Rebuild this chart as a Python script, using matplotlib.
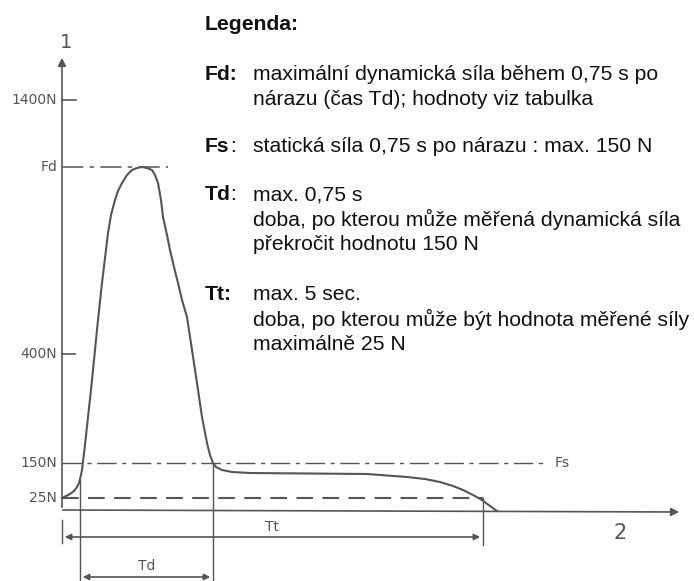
import matplotlib.pyplot as plt
import numpy as np

# force-time diagram (drawing units: t to the right, height of level upwards)
level_names = ['25N', '150N', '400N', 'Fd', '1400N']
level_h = [12, 47, 156, 343, 410]

t_rise = 18     # start of Td
t_td = 151      # end of Td (curve back at 150N)
t_tt = 421      # end of Tt (curve below 25N)
t_end = 620     # end of time axis
h_top = 455     # end of force axis

curve_t = [0, 4, 8, 12, 15, 17, 18, 19, 20, 23, 26, 29, 33, 36, 40, 43, 46,
           49, 53, 56, 60, 65, 70, 75, 80, 85, 90, 93, 96, 99, 101, 105, 108,
           112, 116, 120, 125, 130, 135, 140, 145, 148, 151, 154, 160, 170,
           188, 305, 345, 363, 378, 391, 401, 411, 420, 428, 435]
curve_h = [12, 14, 16, 19, 23, 27, 31, 35, 40, 65, 93, 120, 160, 190, 227,
           252, 277, 295, 310, 319, 327, 335, 340, 342, 343, 342, 340, 335,
           327, 310, 293, 275, 260, 243, 227, 210, 193, 160, 127, 93, 67, 55,
           47, 43, 40, 38, 37, 36, 33, 31, 28, 24, 20, 15, 10, 4, -1]

grey = '#555555'

fig = plt.figure(figsize=(6.94, 5.81), dpi=100)
ax = fig.add_axes([0, 0, 1, 1])
ax.set_xlim(-62, 632)
ax.set_ylim(-71, 510)
ax.axis('off')

# axes with arrows
ax.annotate('', xy=(0, h_top), xytext=(0, 0),
            arrowprops=dict(arrowstyle='-|>', color=grey, lw=1.2, mutation_scale=12))
ax.annotate('', xy=(t_end, -2), xytext=(-2, 0),
            arrowprops=dict(arrowstyle='-|>', color=grey, lw=1.2, mutation_scale=12))
ax.text(4, h_top + 12, '1', fontsize=14, color=grey, ha='center', va='center')
ax.text(558, -23, '2', fontsize=15, color=grey, ha='center', va='center')

# curve
ax.plot(curve_t, curve_h, color=grey, lw=1.5, solid_joinstyle='round')

# reference levels
ax.plot([0, 14], [level_h[4], level_h[4]], color=grey, lw=1.2)
ax.plot([0, 13], [level_h[2], level_h[2]], color=grey, lw=1.2)
ax.plot([0, 106], [level_h[3], level_h[3]], color=grey, lw=1.1, dashes=(14, 4, 3, 4))
ax.plot([0, 485], [level_h[1], level_h[1]], color=grey, lw=1.0, dashes=(14, 4, 3, 4))
ax.plot([0, t_tt], [level_h[0], level_h[0]], color=grey, lw=1.5, dashes=(8, 4.5))
ax.text(493, level_h[1], 'Fs', fontsize=10, color=grey, ha='left', va='center')

for name, h in zip(level_names, level_h):
    ax.text(-5, h, name, fontsize=10, color=grey, ha='right', va='center')

# extension lines
ax.plot([t_rise, t_rise], [30, -71], color=grey, lw=1.0)
ax.plot([t_td, t_td], [level_h[1], -71], color=grey, lw=1.0)
ax.plot([t_tt, t_tt], [level_h[0], -35], color=grey, lw=1.0)
ax.plot([0, 0], [-10, -33], color=grey, lw=1.0)

# dimension lines
ax.annotate('', xy=(0, -27), xytext=(t_tt, -27),
            arrowprops=dict(arrowstyle='<|-|>', color=grey, lw=1.2, mutation_scale=9))
ax.text(210, -17, 'Tt', fontsize=10, color=grey, ha='center', va='center')
ax.annotate('', xy=(t_rise, -67), xytext=(t_td, -67),
            arrowprops=dict(arrowstyle='<|-|>', color=grey, lw=1.2, mutation_scale=9))
ax.text((t_rise + t_td) / 2, -56, 'Td', fontsize=10, color=grey, ha='center', va='center')

# legend text
fs = 15.2
def px(x, y):
    return x / 694, 1 - y / 581

fig.text(*px(205, 25), 'Legenda:', fontsize=fs, fontweight='bold',
         family='Liberation Sans', va='center', color='#111111')
rows = [
    ('Fd:', '', 75, ['maximální dynamická síla během 0,75 s po',
                      'nárazu (čas Td); hodnoty viz tabulka']),
    ('Fs', ':', 147, ['statická síla 0,75 s po nárazu : max. 150 N']),
    ('Td', ':', 195, ['max. 0,75 s',
                      'doba, po kterou může měřená dynamická síla',
                      'překročit hodnotu 150 N']),
    ('Tt:', '', 295, ['max. 5 sec.',
                      'doba, po kterou může být hodnota měřené síly',
                      'maximálně 25 N']),
]
for key, colon, y, lines in rows:
    fig.text(*px(205, y), key, fontsize=fs, fontweight='bold',
             family='Liberation Sans', va='center', color='#111111')
    if colon:
        fig.text(*px(205 + 25, y), colon, fontsize=fs,
                 family='Liberation Sans', va='center', color='#111111')
    for i, line in enumerate(lines):
        fig.text(*px(253, y + i * 24.5), line, fontsize=fs,
                 family='Liberation Sans', va='center', color='#111111')

plt.savefig('out.png', dpi=100)
